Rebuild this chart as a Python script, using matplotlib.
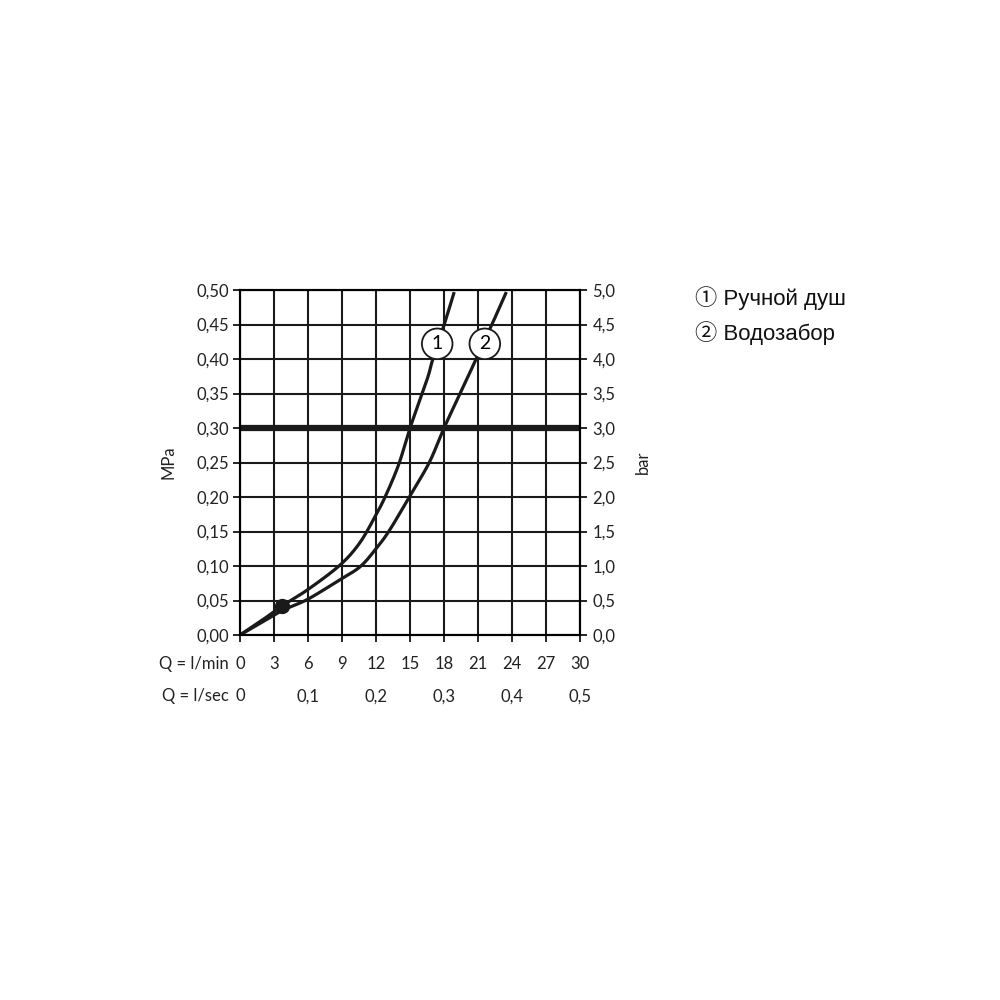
import matplotlib
matplotlib.use("Agg")
import matplotlib.pyplot as plt
import numpy as np

# Data
q_lmin_ticks = [0, 3, 6, 9, 12, 15, 18, 21, 24, 27, 30]
q_lsec_pos = [0, 6, 12, 18, 24, 30]
q_lsec_labels = ["0", "0,1", "0,2", "0,3", "0,4", "0,5"]
mpa_ticks = [0.0, 0.05, 0.10, 0.15, 0.20, 0.25, 0.30, 0.35, 0.40, 0.45, 0.50]
mpa_labels = ["0,00", "0,05", "0,10", "0,15", "0,20", "0,25", "0,30", "0,35", "0,40", "0,45", "0,50"]
bar_labels = ["0,0", "0,5", "1,0", "1,5", "2,0", "2,5", "3,0", "3,5", "4,0", "4,5", "5,0"]

c1_x = [0, 2, 3.7, 6, 8.8, 10.5, 11.8, 12.8, 14.0, 15.0, 16.5, 17.0, 18.0, 18.9]
c1_y = [0, 0.022, 0.042, 0.066, 0.101, 0.132, 0.168, 0.200, 0.247, 0.300, 0.370, 0.399, 0.449, 0.497]
c2_x = [0, 2, 3.8, 6, 8.8, 10.6, 12, 13.2, 14.9, 16.7, 18.0, 20.0, 20.8, 22.2, 23.5]
c2_y = [0, 0.019, 0.036, 0.052, 0.080, 0.099, 0.125, 0.152, 0.199, 0.250, 0.300, 0.370, 0.399, 0.449, 0.497]

ref_pressure = 0.30
ref_flows = [15, 18]
dot = (3.7, 0.042)
labels_pos = [(17.4, 0.422, "1"), (21.6, 0.422, "2")]
legend_items = ["① Ручной душ", "② Водозабор"]

font = ["Lato", "DejaVu Sans"]


def smooth(xs, ys, n=20):
    # Catmull-Rom rendering of the read points (drawing only)
    P = np.column_stack([xs, ys]).astype(float)
    P = np.vstack([2 * P[0] - P[1], P, 2 * P[-1] - P[-2]])
    out = []
    t = np.linspace(0, 1, n, endpoint=False)[:, None]
    for i in range(1, len(P) - 2):
        p0, p1, p2, p3 = P[i - 1], P[i], P[i + 1], P[i + 2]
        seg = 0.5 * ((2 * p1) + (-p0 + p2) * t + (2 * p0 - 5 * p1 + 4 * p2 - p3) * t ** 2
                     + (-p0 + 3 * p1 - 3 * p2 + p3) * t ** 3)
        out.append(seg)
    out.append(P[-2][None, :])
    out = np.vstack(out)
    return out[:, 0], out[:, 1]


fig = plt.figure(figsize=(10, 10), dpi=100)
ax = fig.add_axes([0.24, 0.365, 0.34, 0.345])
ax.set_xlim(0, 30)
ax.set_ylim(0, 0.5)

for x in q_lmin_ticks:
    ax.axvline(x, color="#1a1a1a", lw=1.5, zorder=1)
for y in mpa_ticks:
    ax.axhline(y, color="#1a1a1a", lw=1.5, zorder=1)
ax.axhline(ref_pressure, color="#1a1a1a", lw=4.5, zorder=2)
for f in ref_flows:
    ax.plot([f, f], [0, ref_pressure], color="#1a1a1a", lw=1.2, ls=(0, (4, 3)), zorder=2)

sx, sy = smooth(c1_x, c1_y)
ax.plot(sx, sy, color="#1a1a1a", lw=2.3, zorder=3, solid_capstyle="butt")
sx, sy = smooth(c2_x, c2_y)
ax.plot(sx, sy, color="#1a1a1a", lw=2.3, zorder=3, solid_capstyle="butt")
ax.plot([dot[0]], [dot[1]], "o", color="#1a1a1a", ms=10, zorder=4)

for x, y, t in labels_pos:
    ax.text(x, y, t, ha="center", va="center", fontsize=14, family=font, zorder=5,
            bbox=dict(boxstyle="circle,pad=0.35", fc="white", ec="#1a1a1a", lw=1.3))

for s in ax.spines.values():
    s.set_linewidth(1.5)
    s.set_color("#1a1a1a")

ax.set_yticks(mpa_ticks)
ax.set_yticklabels(mpa_labels, fontsize=12, family=font, color="#222222")
ax.set_xticks(q_lmin_ticks)
ax.set_xticklabels([])
ax.tick_params(axis="y", direction="out", length=5, width=1.2, pad=3)
ax.tick_params(axis="x", direction="out", length=5, width=1.2)

ax2 = ax.twinx()
ax2.set_ylim(0, 5)
ax2.set_yticks([i * 0.5 for i in range(11)])
ax2.set_yticklabels(bar_labels, fontsize=12, family=font, color="#222222")
ax2.tick_params(axis="y", direction="out", length=5, width=1.2, pad=4)
for s in ax2.spines.values():
    s.set_linewidth(1.5)

ax.set_ylabel("MPa", fontsize=12, family=font, color="#222222", labelpad=14)
ax2.set_ylabel("bar", fontsize=12, family=font, color="#222222", rotation=90, labelpad=14)

# x label rows
row1_y = -0.085
row2_y = -0.178
for x in q_lmin_ticks:
    ax.text(x, row1_y, str(x), transform=ax.get_xaxis_transform(), ha="center", va="center",
            fontsize=12, family=font, color="#222222")
for x, l in zip(q_lsec_pos, q_lsec_labels):
    ax.text(x, row2_y, l, transform=ax.get_xaxis_transform(), ha="center", va="center",
            fontsize=12, family=font, color="#222222")
ax.text(-1.0, row1_y, "Q = l/min", transform=ax.get_xaxis_transform(), ha="right", va="center",
        fontsize=12, family=font, color="#222222")
ax.text(-1.0, row2_y, "Q = l/sec", transform=ax.get_xaxis_transform(), ha="right", va="center",
        fontsize=12, family=font, color="#222222")

for i, t in enumerate(legend_items):
    fig.text(0.695, 0.702 - i * 0.035, t, ha="left", va="center", fontsize=16,
             family=["Liberation Sans", "Noto Sans CJK SC", "DejaVu Sans"], color="#111111")

fig.savefig("out.png", dpi=100, facecolor="white")
